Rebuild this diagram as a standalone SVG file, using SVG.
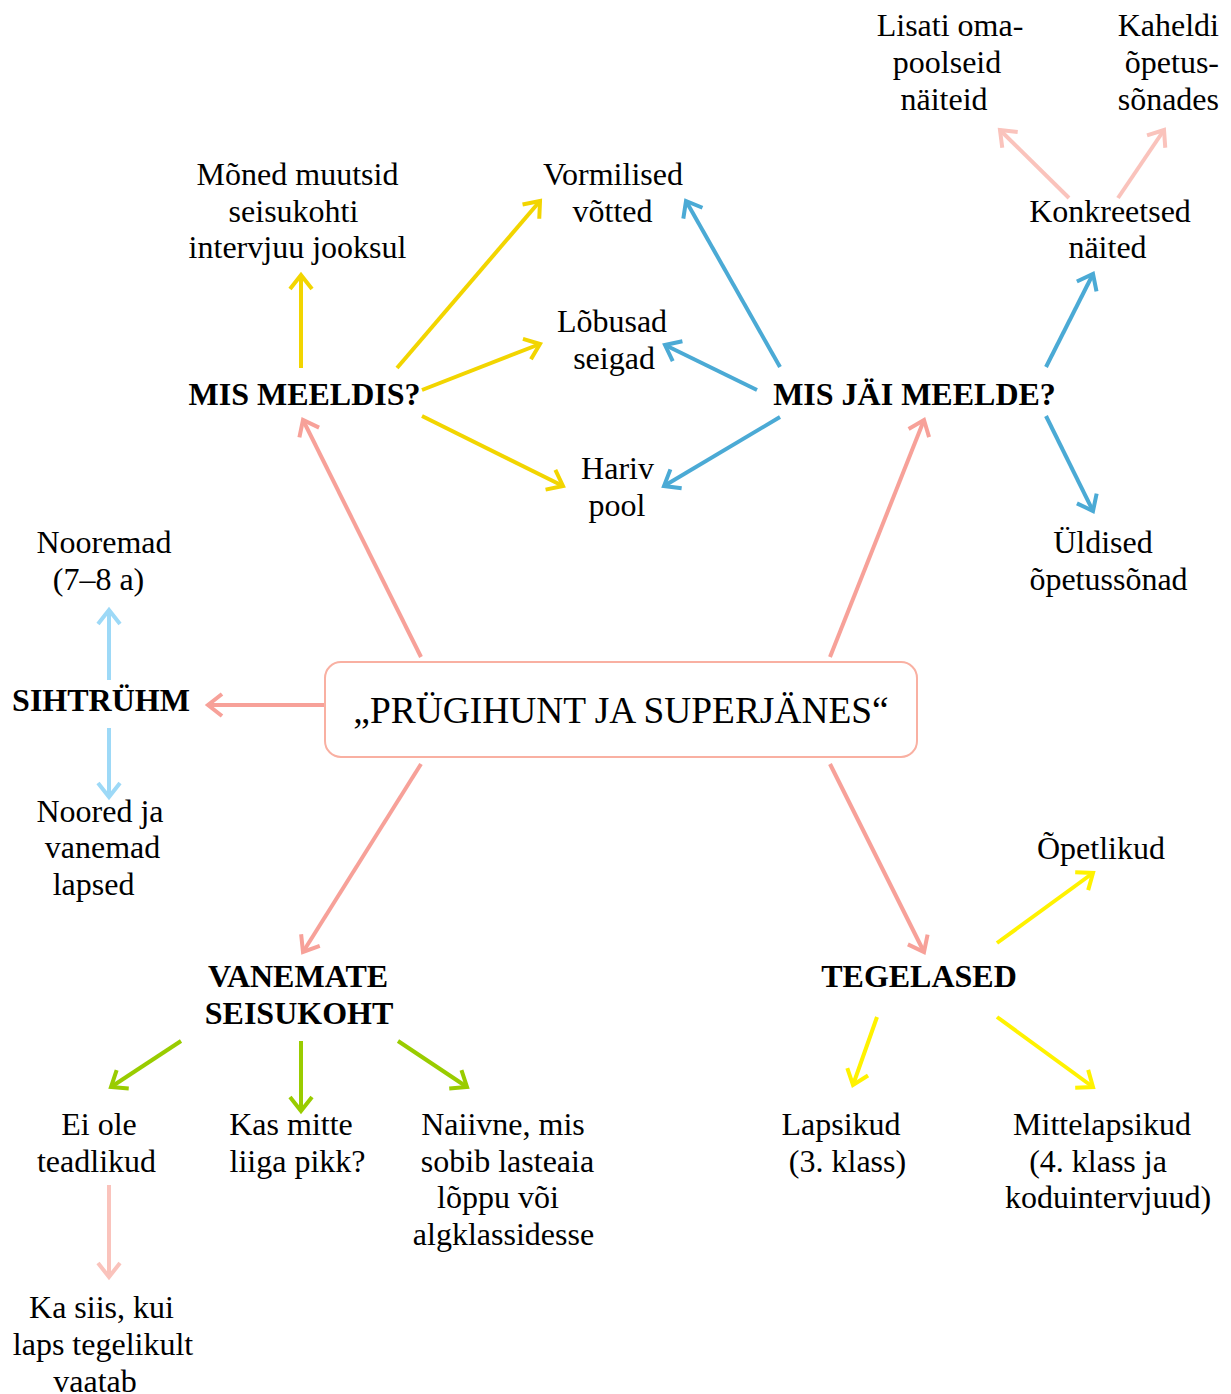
<svg xmlns="http://www.w3.org/2000/svg" width="1231" height="1394" viewBox="0 0 1231 1394">
<style>
text{font-family:"Liberation Serif","Times New Roman",serif;font-size:32px;fill:#000;text-anchor:middle}
.b{font-weight:bold}
.t{font-size:37.4px}
.c{fill:none;stroke-width:4}
.salmon{stroke:#F7A199}
.pink{stroke:#FAC3BC}
.gold{stroke:#F2D500}
.yel{stroke:#FFF200}
.blue{stroke:#4BAAD5}
.lblue{stroke:#9DD9F7}
.green{stroke:#99CC00}
</style>
<defs>
<marker id="m-salmon" markerUnits="userSpaceOnUse" markerWidth="32" markerHeight="32" refX="0" refY="0" viewBox="-16 -16 32 32" orient="auto"><path d="M-14,-11 L0,0 L-14,11" fill="none" stroke="#F7A199" stroke-width="4"/></marker>
<marker id="m-pink" markerUnits="userSpaceOnUse" markerWidth="32" markerHeight="32" refX="0" refY="0" viewBox="-16 -16 32 32" orient="auto"><path d="M-14,-11 L0,0 L-14,11" fill="none" stroke="#FAC3BC" stroke-width="4"/></marker>
<marker id="m-gold" markerUnits="userSpaceOnUse" markerWidth="32" markerHeight="32" refX="0" refY="0" viewBox="-16 -16 32 32" orient="auto"><path d="M-14,-11 L0,0 L-14,11" fill="none" stroke="#F2D500" stroke-width="4"/></marker>
<marker id="m-yel" markerUnits="userSpaceOnUse" markerWidth="32" markerHeight="32" refX="0" refY="0" viewBox="-16 -16 32 32" orient="auto"><path d="M-14,-11 L0,0 L-14,11" fill="none" stroke="#FFF200" stroke-width="4"/></marker>
<marker id="m-blue" markerUnits="userSpaceOnUse" markerWidth="32" markerHeight="32" refX="0" refY="0" viewBox="-16 -16 32 32" orient="auto"><path d="M-14,-11 L0,0 L-14,11" fill="none" stroke="#4BAAD5" stroke-width="4"/></marker>
<marker id="m-lblue" markerUnits="userSpaceOnUse" markerWidth="32" markerHeight="32" refX="0" refY="0" viewBox="-16 -16 32 32" orient="auto"><path d="M-14,-11 L0,0 L-14,11" fill="none" stroke="#9DD9F7" stroke-width="4"/></marker>
<marker id="m-green" markerUnits="userSpaceOnUse" markerWidth="32" markerHeight="32" refX="0" refY="0" viewBox="-16 -16 32 32" orient="auto"><path d="M-14,-11 L0,0 L-14,11" fill="none" stroke="#99CC00" stroke-width="4"/></marker>
</defs>
<rect width="1231" height="1394" fill="#fff"/>
<g id="connectors">
<line class="c salmon" x1="421" y1="657" x2="303" y2="420" marker-end="url(#m-salmon)"/>
<line class="c salmon" x1="830" y1="657" x2="924" y2="420" marker-end="url(#m-salmon)"/>
<line class="c salmon" x1="325" y1="705" x2="208" y2="705" marker-end="url(#m-salmon)"/>
<line class="c salmon" x1="421" y1="764" x2="303" y2="952" marker-end="url(#m-salmon)"/>
<line class="c salmon" x1="830" y1="764" x2="924" y2="952" marker-end="url(#m-salmon)"/>
<line class="c gold" x1="301" y1="368" x2="301" y2="275" marker-end="url(#m-gold)"/>
<line class="c gold" x1="397" y1="368" x2="540" y2="201" marker-end="url(#m-gold)"/>
<line class="c gold" x1="422" y1="390" x2="540" y2="344" marker-end="url(#m-gold)"/>
<line class="c gold" x1="422" y1="416" x2="563" y2="486" marker-end="url(#m-gold)"/>
<line class="c blue" x1="780" y1="367" x2="686" y2="201" marker-end="url(#m-blue)"/>
<line class="c blue" x1="757" y1="390" x2="665" y2="345" marker-end="url(#m-blue)"/>
<line class="c blue" x1="780" y1="417" x2="664" y2="486" marker-end="url(#m-blue)"/>
<line class="c blue" x1="1046" y1="367" x2="1093" y2="274" marker-end="url(#m-blue)"/>
<line class="c blue" x1="1046" y1="416" x2="1093" y2="511" marker-end="url(#m-blue)"/>
<line class="c pink" x1="1069" y1="198" x2="1000" y2="130" marker-end="url(#m-pink)"/>
<line class="c pink" x1="1118" y1="198" x2="1164" y2="130" marker-end="url(#m-pink)"/>
<line class="c lblue" x1="109" y1="680" x2="109" y2="610" marker-end="url(#m-lblue)"/>
<line class="c lblue" x1="109" y1="728" x2="109" y2="797" marker-end="url(#m-lblue)"/>
<line class="c green" x1="181" y1="1041" x2="111" y2="1087" marker-end="url(#m-green)"/>
<line class="c green" x1="301" y1="1041" x2="301" y2="1111" marker-end="url(#m-green)"/>
<line class="c green" x1="398" y1="1041" x2="467" y2="1087" marker-end="url(#m-green)"/>
<line class="c pink" x1="109" y1="1185" x2="109" y2="1277" marker-end="url(#m-pink)"/>
<line class="c yel" x1="997" y1="943" x2="1093" y2="873" marker-end="url(#m-yel)"/>
<line class="c yel" x1="877" y1="1017" x2="853" y2="1085" marker-end="url(#m-yel)"/>
<line class="c yel" x1="997" y1="1017" x2="1093" y2="1087" marker-end="url(#m-yel)"/>
</g>
<g id="title">
<rect x="325" y="662" width="592" height="95" rx="16" fill="#fff" stroke="#F9B0A2" stroke-width="2"/>
<text class="t" x="621" y="723">„PRÜGIHUNT JA SUPERJÄNES“</text>
</g>
<g id="mis-meeldis"><text class="b" x="304.5" y="405">MIS MEELDIS?</text></g>
<g id="mis-jai-meelde"><text class="b" x="914.5" y="405">MIS JÄI MEELDE?</text></g>
<g id="sihtruhm"><text class="b" x="101" y="711">SIHTRÜHM</text></g>
<g id="vanemate"><text class="b" x="298" y="987">VANEMATE</text><text class="b" x="299" y="1024">SEISUKOHT</text></g>
<g id="tegelased"><text class="b" x="919" y="987">TEGELASED</text></g>
<g id="lisati"><text x="950" y="36">Lisati oma-</text><text x="947" y="73">poolseid</text><text x="944" y="110">näiteid</text></g>
<g id="kaheldi"><text x="1219" y="36" style="text-anchor:end">Kaheldi</text><text x="1219" y="73" style="text-anchor:end">õpetus-</text><text x="1219" y="110" style="text-anchor:end">sõnades</text></g>
<g id="moned"><text x="297.5" y="185">Mõned muutsid</text><text x="293.5" y="222">seisukohti</text><text x="297.5" y="258">intervjuu jooksul</text></g>
<g id="vormilised"><text x="613" y="185">Vormilised</text><text x="612.5" y="222">võtted</text></g>
<g id="lobusad"><text x="612" y="332">Lõbusad</text><text x="614" y="369">seigad</text></g>
<g id="hariv"><text x="617.5" y="479">Hariv</text><text x="617" y="516">pool</text></g>
<g id="konkreetsed"><text x="1110" y="222">Konkreetsed</text><text x="1107.5" y="258">näited</text></g>
<g id="uldised"><text x="1103" y="553">Üldised</text><text x="1108.5" y="590">õpetussõnad</text></g>
<g id="nooremad"><text x="104" y="553">Nooremad</text><text x="98.5" y="590">(7–8 a)</text></g>
<g id="noored"><text x="100" y="822">Noored ja</text><text x="102.5" y="858">vanemad</text><text x="93.5" y="895">lapsed</text></g>
<g id="opetlikud"><text x="1101" y="859">Õpetlikud</text></g>
<g id="ei-ole"><text x="99" y="1135">Ei ole</text><text x="96.5" y="1172">teadlikud</text></g>
<g id="kas-mitte"><text x="291" y="1135">Kas mitte</text><text x="297.5" y="1172">liiga pikk?</text></g>
<g id="naiivne"><text x="503" y="1135">Naiivne, mis</text><text x="507.5" y="1172">sobib lasteaia</text><text x="498" y="1208">lõppu või</text><text x="503.5" y="1245">algklassidesse</text></g>
<g id="ka-siis"><text x="101.5" y="1318">Ka siis, kui</text><text x="103" y="1355">laps tegelikult</text><text x="95" y="1392">vaatab</text></g>
<g id="lapsikud"><text x="841" y="1135">Lapsikud</text><text x="847.5" y="1172">(3. klass)</text></g>
<g id="mittelapsikud"><text x="1102" y="1135">Mittelapsikud</text><text x="1098" y="1172">(4. klass ja</text><text x="1108" y="1208">koduintervjuud)</text></g>
</svg>
